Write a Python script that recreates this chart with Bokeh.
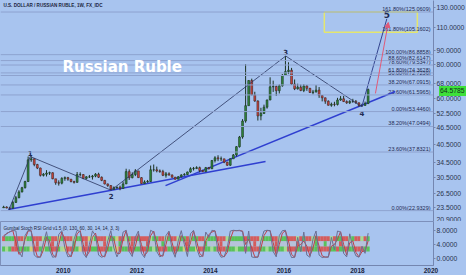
import numpy as np
from bokeh.plotting import figure
from bokeh.models import (Range1d, FixedTicker, NumeralTickFormatter, Label, Div,
                          ColumnDataSource, Arrow, NormalHead, Span)
from bokeh.layouts import column
from bokeh.embed import file_html
from bokeh.resources import INLINE
from bokeh.core.properties import value

BG = "#a8c4ef"
FIB_COLOR = "#8ea3cf"
TEXT = "#1f2b52"

# ---- USD/RUB monthly bars, May 2008 .. Apr 2018 ----
start_year, start_month = 2008, 5
first_open = 23.50
close = [
    23.65, 23.45, 23.40, 24.60, 25.60, 26.90, 27.90, 29.40,
    35.40, 35.70, 34.00, 33.00, 31.00, 31.30, 31.60, 31.70, 30.10, 29.10, 29.00, 30.20,
    30.40, 30.00, 29.40, 29.20, 31.20, 31.20, 30.20, 30.60, 30.60, 30.80, 31.30, 30.50,
    29.70, 28.80, 28.40, 27.50, 27.90, 28.00, 27.70, 28.80, 32.00, 30.40, 31.20, 32.20,
    30.40, 28.90, 29.30, 29.40, 32.50, 32.50, 32.20, 32.00, 31.00, 31.40, 31.10, 30.50,
    30.00, 30.60, 31.10, 31.20, 31.90, 32.80, 32.90, 33.10, 32.30, 32.00, 33.10, 32.80,
    35.20, 36.00, 35.70, 35.70, 34.70, 33.80, 35.70, 36.90, 39.60, 43.00, 49.30, 56.20,
    69.70, 61.60, 58.50, 51.50, 52.60, 55.50, 59.00, 66.00, 66.20, 63.90, 66.60, 72.90,
    75.20, 76.10, 67.60, 64.90, 65.80, 64.00, 66.50, 65.20, 62.90, 63.20, 64.20, 61.30,
    60.10, 58.40, 56.40, 56.90, 56.80, 59.00, 59.60, 58.20, 57.60, 58.30, 58.30, 57.60,
    56.30, 56.30, 57.20, 64.5785,
]
high = [
    23.90, 23.80, 23.70, 24.90, 26.00, 27.30, 28.10, 29.60,
    36.40, 36.50, 35.80, 34.20, 33.10, 31.60, 32.40, 32.00, 31.80, 30.00, 29.70, 30.50,
    30.70, 30.60, 30.00, 29.60, 31.90, 31.80, 31.30, 30.80, 31.10, 31.10, 31.60, 31.70,
    30.70, 29.80, 28.90, 28.50, 28.20, 28.20, 28.40, 29.40, 32.80, 32.60, 31.80, 32.70,
    32.20, 30.50, 29.70, 29.80, 33.70, 34.00, 33.40, 32.60, 32.50, 31.90, 31.80, 31.20,
    30.60, 30.80, 31.30, 31.60, 32.00, 33.20, 33.30, 33.50, 33.40, 32.50, 33.30, 33.30,
    35.30, 36.50, 36.80, 36.40, 35.60, 34.80, 35.80, 37.20, 39.80, 43.40, 50.10, 80.10,
    69.80, 70.80, 63.30, 58.80, 55.20, 56.70, 59.20, 71.60, 69.60, 66.70, 67.40, 73.60,
    85.90, 81.40, 77.60, 70.30, 67.80, 67.30, 67.50, 67.10, 65.40, 64.30, 67.00, 65.90,
    61.50, 60.20, 58.80, 57.70, 58.10, 60.10, 61.00, 61.20, 58.80, 58.90, 59.60, 59.00,
    57.70, 57.10, 58.20, 65.00,
]
low = [
    23.50, 23.40, 23.10, 23.40, 24.50, 25.50, 26.80, 27.70,
    29.30, 34.80, 33.50, 32.70, 30.70, 30.70, 30.70, 31.10, 30.00, 28.60, 28.40, 28.70,
    29.60, 29.60, 29.20, 28.90, 29.10, 30.70, 30.00, 29.90, 30.30, 29.90, 30.50, 30.30,
    29.50, 28.70, 28.10, 27.30, 27.50, 27.60, 27.30, 28.10, 29.60, 29.80, 30.20, 30.80,
    30.40, 28.90, 28.90, 29.10, 29.30, 32.00, 31.80, 31.70, 30.80, 30.40, 30.90, 30.40,
    29.90, 30.00, 30.50, 30.90, 31.10, 31.70, 32.30, 32.70, 31.80, 31.90, 32.00, 32.60,
    32.70, 34.60, 35.00, 35.00, 34.40, 33.60, 33.60, 35.80, 36.40, 39.30, 42.40, 48.60,
    56.20, 61.50, 58.10, 49.50, 49.60, 52.40, 54.80, 58.90, 63.20, 61.10, 62.40, 66.10,
    72.60, 73.60, 67.20, 64.20, 64.50, 63.60, 63.10, 63.80, 62.70, 61.90, 62.90, 60.10,
    58.30, 57.10, 56.30, 55.70, 55.90, 56.30, 58.60, 58.00, 57.10, 57.00, 57.60, 57.10,
    55.70, 55.60, 56.40, 57.00,
]

# ---- Stoch RSI grid indicator (monthly) ----
stoch_k = [
    6.0, 7.2, 7.5, 8.0, 7.8, 2.0, 0.5, 6.5,
    8.0, 7.8, 1.0, 0.3, 0.5, 4.5, 7.6, 2.5, 0.4, 0.6, 6.8, 7.9,
    3.0, 0.5, 0.8, 5.5, 8.0, 7.6, 1.5, 0.3, 4.0, 7.8, 6.5, 1.0,
    0.4, 0.8, 5.0, 7.9, 3.0, 0.5, 2.5, 7.5, 8.0, 2.0, 0.6, 6.0,
    7.8, 1.5, 0.3, 3.5, 8.0, 7.5, 2.0, 0.5, 1.0, 6.5, 7.8, 2.5,
    0.4, 5.0, 7.9, 4.0, 0.6, 7.0, 8.0, 3.0, 0.5, 0.8, 7.5, 6.0,
    8.0, 7.8, 2.0, 0.4, 0.6, 3.0, 7.8, 8.0, 7.9, 8.0, 7.6, 1.5,
    7.8, 0.5, 0.3, 0.5, 5.0, 7.8, 8.0, 7.9, 2.0, 0.5, 6.5, 7.9,
    8.0, 2.5, 0.3, 0.4, 6.0, 2.0, 7.5, 1.0, 0.4, 5.5, 7.8, 1.0,
    0.3, 0.5, 0.4, 6.0, 2.5, 7.8, 7.5, 1.5, 0.5, 7.0, 3.0, 0.8,
    0.4, 3.5, 1.5, 7.2,
]
stoch_d = [
    6.5, 7.0, 7.6, 7.9, 4.5, 1.2, 2.0, 5.5,
    7.8, 7.9, 3.5, 0.6, 0.4, 2.5, 6.0, 5.0, 1.2, 0.4, 4.0, 7.5,
    5.5, 1.5, 0.5, 3.0, 7.0, 7.9, 4.0, 0.6, 2.0, 6.0, 7.2, 3.5,
    0.8, 0.5, 3.0, 6.5, 5.5, 1.5, 1.5, 5.5, 7.9, 4.5, 1.2, 3.5,
    7.0, 4.0, 0.8, 2.0, 6.5, 7.8, 4.5, 1.0, 0.7, 4.0, 7.5, 4.5,
    1.2, 2.8, 6.5, 5.5, 2.0, 4.5, 7.8, 5.0, 1.5, 0.6, 5.0, 6.8,
    7.5, 7.9, 4.5, 1.0, 0.5, 1.8, 5.5, 7.9, 7.9, 7.9, 7.8, 4.0,
    5.5, 3.0, 0.5, 0.4, 3.0, 6.5, 7.9, 7.9, 4.5, 1.0, 4.0, 7.2,
    7.9, 5.0, 1.2, 0.4, 3.5, 4.0, 5.0, 3.5, 0.8, 3.0, 6.5, 3.5,
    0.8, 0.4, 0.5, 3.5, 4.0, 5.5, 7.6, 4.0, 1.0, 4.5, 5.0, 1.8,
    0.5, 2.0, 2.2, 5.0,
]
# grid cell colours per month: r red, g green, l light green, y yellow, k grey
grid_top = ("rgggrrry" "ggrrrlggrryg" "rrrlggrrylgr" "rrlggyrrlgrr" "grrrlggrrlgr"
            "rlggrlggrrlg" "ggrrrlgggggr" "grrrlgggrrlg" "grrrlrgrrlgr" "rrrlrggrrlgr" "rlrg")
grid_mid = ("kkkkrkkk" "kkkrkkkkrkkk" "kkkgkkkrkkkk" "krkkkkgkkkrk" "kkkrkkkkgkkk"
            "kkkkrkkkkkgk" "kkkrkkkkkkkk" "kkrkkkkkkrkk" "kkkkrkkkkkgk" "kgkkkkrkkkkk" "kkkk")
grid_bot = ("glgrrggg" "gyrrglggrrgl" "yrrggyrrrggr" "rrgglyrggrrg" "grrgglgrrrgg"
            "rggyrggyrrgg" "lgrrrggglggr" "grrrgglggrgg" "lrrrggrrrggr" "rrrggrggrggr" "rrgg")
grid_colors = {"r": "#dd4a42", "g": "#4cc23e", "l": "#a6e080", "y": "#d6d260", "k": "#b9c2d6"}
grid_rows = [(grid_top, 4.9, 6.3), (grid_mid, 3.4, 4.9), (grid_bot, 2.0, 3.4)]

# ---- Elliott wave count and drawing tools ----
wave_t = [2008.52, 2009.10, 2011.30, 2016.05, 2018.12, 2018.80]
wave_p = [23.10, 36.40, 27.30, 85.90, 55.70, 118.0]
wave_names = ["", "1", "2", "3", "4", "5"]
trend_a_t, trend_a_p = [2008.50, 2015.50], [23.14, 34.90]
trend_b_t, trend_b_p = [2012.78, 2019.03], [28.40, 63.40]
proj_t, proj_p = [2018.49, 2018.84], [62.40, 114.40]
box_t = [2017.10, 2019.63]

fib_levels = [125.0609, 86.8858, 82.6147, 79.5347, 74.3628, 72.7236,
              67.0915, 61.5965, 53.4460, 47.0494, 37.8321, 22.9329]
fib_names = ["161.80%(125.0609)", "100.00%(86.8858)", "88.60%(82.6147)",
             "78.60%(79.5347)", "61.80%(74.3628)", "50.00%(72.7236)",
             "38.20%(67.0915)", "23.60%(61.5965)", "0.00%(53.4460)",
             "38.20%(47.0494)", "23.60%(37.8321)", "0.00%(22.9329)"]
box_levels = [125.0609, 105.1602]
box_name = "161.80%(105.1602)"

price_ticks = [130, 110, 90, 80, 68, 60, 52.5, 46.5, 40.5, 34.5, 30.5, 26.5, 23.5, 20.9]
osc_ticks = [0, 4, 8]
year_ticks = [2010, 2012, 2014, 2016, 2018, 2020]
last_price = 64.5785

PRICE_TOP, PRICE_BOTTOM = 138.0, 20.9
PRICE_PANE_H = 221


def style_price_axis(axis, ticks):
    axis.ticker = FixedTicker(ticks=ticks)
    axis.formatter = NumeralTickFormatter(format="0.0000")
    axis.major_label_text_font = "Liberation Sans"
    axis.major_label_text_font_size = "6.8px"
    axis.major_label_text_color = "#2b3550"
    axis.axis_line_color = "#7486b0"
    axis.major_tick_line_color = "#7486b0"
    axis.major_tick_out = 2
    axis.major_tick_in = 0
    axis.minor_tick_line_color = None
    axis.major_label_standoff = 1


# ---------------------------------------------------------------
n = min(len(close), len(high), len(low))
t = np.array([start_year + (start_month - 1 + i + 0.5) / 12.0 for i in range(n)])
c = np.array(close[:n])
o = np.concatenate([[first_open], c[:-1]])
hi = np.array(high[:n])
lo = np.array(low[:n])
up = c >= o

x_range = Range1d(2008.29, 2020.07)

p = figure(frame_width=433, frame_height=PRICE_PANE_H, x_range=x_range,
           y_range=Range1d(PRICE_BOTTOM, PRICE_TOP), y_axis_type="log",
           x_axis_location=None, y_axis_location="right",
           output_backend="svg", toolbar_location=None,
           min_border_left=0, min_border_top=0, min_border_bottom=0, min_border_right=0)
p.background_fill_color = BG
p.border_fill_color = BG
p.outline_line_color = None
p.grid.visible = False
style_price_axis(p.yaxis[0], price_ticks)

# Fibonacci levels
for lv in fib_levels:
    p.add_layout(Span(location=lv, dimension="width", line_color=FIB_COLOR, line_width=1))
fib_src = ColumnDataSource(dict(x=[x_range.end - 0.08] * len(fib_levels), y=fib_levels, txt=fib_names))
p.text(x="x", y="y", text="txt", source=fib_src, text_align="right", text_baseline="bottom",
       text_font=value("Liberation Sans"), text_font_size="5.5px", text_color=TEXT)

# target box
p.quad(left=[box_t[0]], right=[box_t[1]], top=[box_levels[0]], bottom=[box_levels[1]],
       fill_alpha=0, line_color="#e4e66e", line_width=1.5)
p.text(x=[x_range.end - 0.08], y=[box_levels[1]], text=[box_name], text_align="right",
       text_baseline="bottom", text_font=value("Liberation Sans"), text_font_size="5.5px",
       text_color=TEXT)

# trend lines
p.line(trend_a_t, trend_a_p, line_color="#2f3fd0", line_width=1.5)
p.line(trend_b_t, trend_b_p, line_color="#2f3fd0", line_width=1.5)

# candles
p.segment(x0=t, y0=hi, x1=t, y1=lo, line_color="#1c3322", line_width=1)
body_top = np.maximum(o, c)
body_bot = np.minimum(o, c)
p.vbar(x=t[up], width=0.05, top=body_top[up], bottom=body_bot[up],
       fill_color="#2f8a3c", line_color="#1c3322", line_width=0.6)
p.vbar(x=t[~up], width=0.05, top=body_top[~up], bottom=body_bot[~up],
       fill_color="#d2453c", line_color="#3a2626", line_width=0.6)

# wave count
p.line(wave_t[:5], wave_p[:5], line_color="#2a3560", line_width=0.8)
p.line(wave_t[4:], wave_p[4:], line_color="#34448f", line_width=1)
p.add_layout(Arrow(end=NormalHead(size=5, fill_color="#e05a78", line_color="#e05a78"),
                   x_start=proj_t[0], y_start=proj_p[0], x_end=proj_t[1], y_end=proj_p[1],
                   line_color="#e05a78", line_width=1))
above = [1, 3, 5]
below = [2, 4]
p.text(x=[wave_t[i] for i in above], y=[wave_p[i] for i in above],
       text=[wave_names[i] for i in above], text_align="center", text_baseline="bottom",
       y_offset=-1, text_font=value("DejaVu Sans"),
       text_font_size=["7px", "7px", "9px"], text_font_style="bold", text_color=TEXT)
p.text(x=[wave_t[i] for i in below], y=[wave_p[i] for i in below],
       text=[wave_names[i] for i in below], text_align="center", text_baseline="top",
       y_offset=3, text_font=value("DejaVu Sans"), text_font_size="7px",
       text_font_style="bold", text_color=TEXT)

p.add_layout(Label(x=2008.37, y=132.2, text="U.S. DOLLAR / RUSSIAN RUBLE, 1W, FX_IDC",
                   text_font="Liberation Sans", text_font_size="4.6px", text_font_style="bold",
                   text_color="#1c2440", text_baseline="middle"))
p.add_layout(Label(x=2011.6, y=77.9, text="Russian Ruble", text_font="DejaVu Sans",
                   text_font_size="15px", text_font_style="bold", text_color="#ffffff",
                   text_align="center", text_baseline="middle"))

# ---- indicator pane ----
q = figure(frame_width=433, frame_height=44, x_range=x_range, y_range=Range1d(-1.93, 10.48),
           y_axis_location="right", output_backend="svg", toolbar_location=None,
           min_border_left=0, min_border_top=0, min_border_bottom=0, min_border_right=0)
q.background_fill_color = BG
q.border_fill_color = BG
q.outline_line_color = "#7d90bb"
q.grid.visible = False
style_price_axis(q.yaxis[0], osc_ticks)

xa = q.xaxis[0]
xa.ticker = FixedTicker(ticks=year_ticks)
xa.major_label_overrides = {y: str(y) for y in year_ticks}
xa.major_label_text_font = "Liberation Sans"
xa.major_label_text_font_size = "6.5px"
xa.major_label_text_font_style = "bold"
xa.major_label_text_color = "#1c2440"
xa.axis_line_color = "#7486b0"
xa.major_tick_line_color = None
xa.major_tick_out = 0
xa.major_tick_in = 0
xa.minor_tick_line_color = None
xa.major_label_standoff = 2

cl, cr, cb, ct, cc = [], [], [], [], []
for row, b, tp in grid_rows:
    for i, ch in enumerate(row[:n]):
        cl.append(t[i] - 1 / 24)
        cr.append(t[i] + 1 / 24)
        cb.append(b)
        ct.append(tp)
        cc.append(grid_colors[ch])
q.quad(left=cl, right=cr, bottom=cb, top=ct, fill_color=cc, line_color=None, fill_alpha=0.85)

m = min(n, len(stoch_k), len(stoch_d))
q.line(t[:m], stoch_d[:m], line_color="#c0404a", line_width=1)
q.line(t[:m], stoch_k[:m], line_color="#6c6f92", line_width=1)

q.add_layout(Label(x=2008.37, y=8.55, text="Gumbal Stoch RSI Grid v1.5 (0, 130, 60, 30, 14, 14, 3, 3)",
                   text_font="Liberation Sans", text_font_size="4.6px", text_color="#1c2440",
                   text_baseline="middle"))

# last-price tag sitting on the price scale, placed at the log-scale position of the price
frac = (np.log(PRICE_TOP) - np.log(last_price)) / (np.log(PRICE_TOP) - np.log(PRICE_BOTTOM))
tag_top = int(round(frac * PRICE_PANE_H)) - 8
tag = Div(text=f"{last_price:.4f}", width=32, height=10,
          styles={"position": "absolute", "left": "434px", "top": f"{tag_top}px",
                  "background-color": "#3ee03a", "color": "#10301a",
                  "font-family": "Liberation Sans", "font-size": "6.8px",
                  "line-height": "10px", "padding-left": "1px", "z-index": "10"})

layout = column(p, q, tag, spacing=0, styles={"background-color": BG, "position": "relative"})
open("out.html", "w").write(file_html(layout, INLINE))
